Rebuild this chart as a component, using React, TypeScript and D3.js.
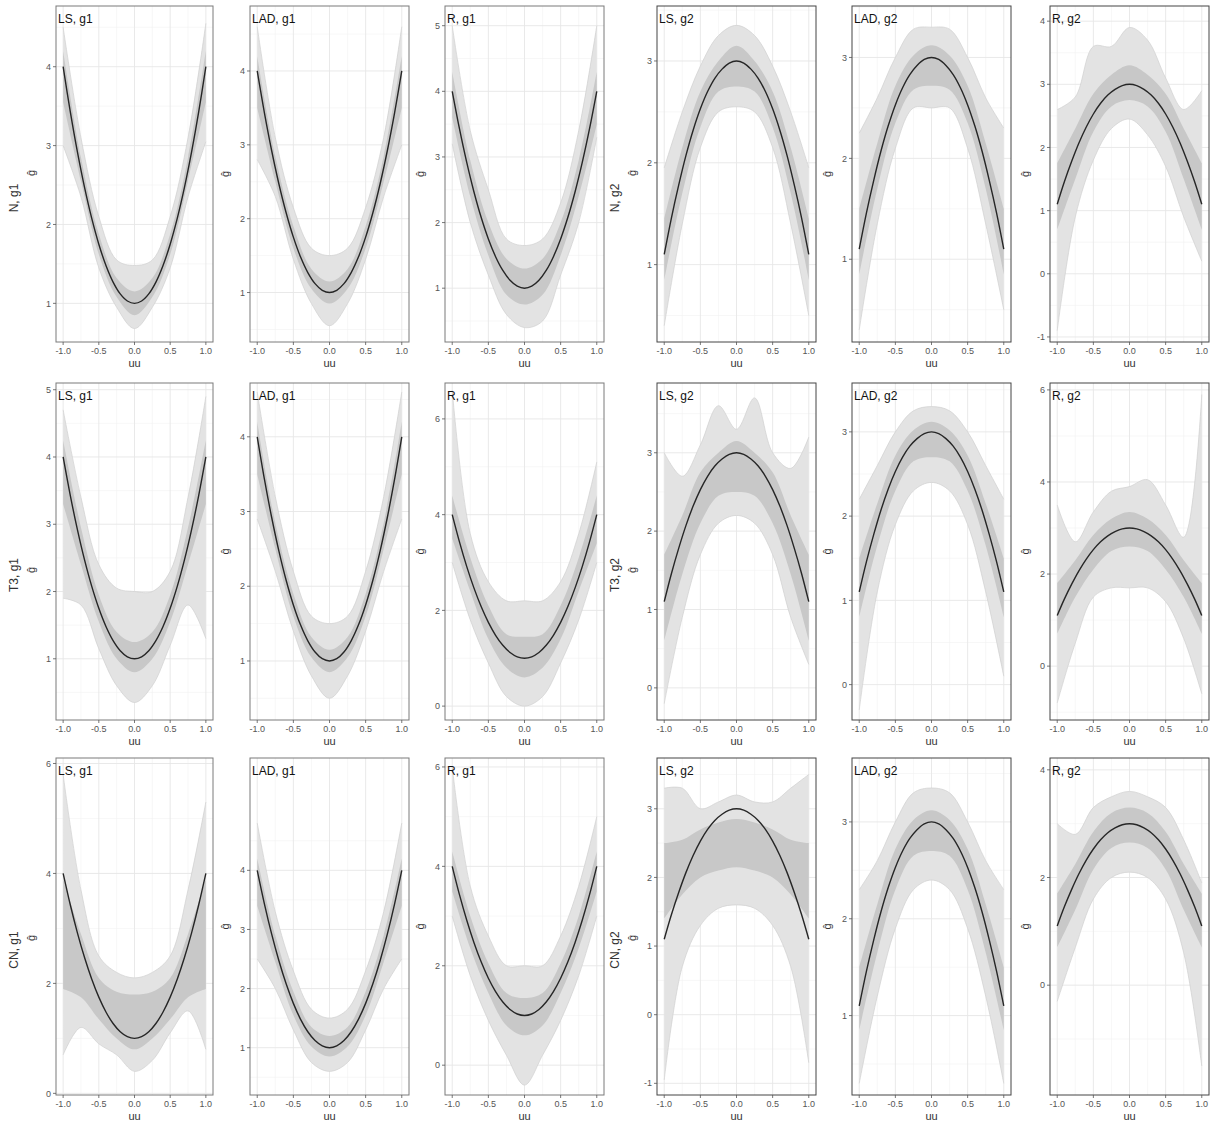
import React from "react";
import * as d3 from "d3";

// ---------- data ----------
const colTitles = ["LS, g1", "LAD, g1", "R, g1", "LS, g2", "LAD, g2", "R, g2"];
const rowNames = ["N", "T3", "CN"];
const xTicks = [-1, -0.5, 0, 0.5, 1];
const xTickLabels = ["-1.0", "-0.5", "0.0", "0.5", "1.0"];

// true curves read on a grid of u = -1..1 step 0.1
const trueX = [-1, -0.9, -0.8, -0.7, -0.6, -0.5, -0.4, -0.3, -0.2, -0.1, 0, 0.1, 0.2, 0.3, 0.4, 0.5, 0.6, 0.7, 0.8, 0.9, 1];
const g1True = [4, 3.43, 2.92, 2.47, 2.08, 1.75, 1.48, 1.27, 1.12, 1.03, 1, 1.03, 1.12, 1.27, 1.48, 1.75, 2.08, 2.47, 2.92, 3.43, 4];
const g2True = [1.1, 1.46, 1.78, 2.07, 2.32, 2.53, 2.7, 2.83, 2.92, 2.98, 3, 2.98, 2.92, 2.83, 2.7, 2.53, 2.32, 2.07, 1.78, 1.46, 1.1];

// band of simulated estimates read on u = -1..1 step 0.25 (panel order: row by row, 6 per row)
const bandX = [-1, -0.75, -0.5, -0.25, 0, 0.25, 0.5, 0.75, 1];
const outerLo = [
  [3.0, 2.35, 1.45, 0.95, 0.68, 0.95, 1.45, 2.35, 3.05],
  [2.8, 2.3, 1.45, 0.85, 0.55, 0.85, 1.45, 2.3, 3.0],
  [3.2, 2.0, 1.2, 0.6, 0.4, 0.5, 1.2, 2.0, 3.3],
  [0.4, 1.4, 2.15, 2.5, 2.55, 2.5, 2.15, 1.4, 0.5],
  [0.3, 1.35, 2.1, 2.5, 2.5, 2.5, 2.1, 1.35, 0.5],
  [-0.9, 0.9, 1.8, 2.3, 2.45, 2.2, 1.7, 0.9, 0.2],
  [1.9, 1.8, 1.15, 0.6, 0.35, 0.6, 1.2, 1.8, 1.3],
  [2.9, 2.2, 1.4, 0.8, 0.5, 0.8, 1.4, 2.2, 2.9],
  [3.0, 1.8, 0.9, 0.2, 0.0, 0.2, 0.9, 1.8, 3.0],
  [-0.2, 0.9, 1.7, 2.1, 2.2, 2.1, 1.7, 0.9, 0.3],
  [-0.3, 1.1, 1.9, 2.3, 2.4, 2.3, 1.9, 1.1, 0.1],
  [-0.8, 0.5, 1.5, 1.7, 1.7, 1.7, 1.4, 0.6, -0.6],
  [0.7, 1.2, 0.9, 0.7, 0.4, 0.6, 1.1, 1.5, 0.8],
  [2.5, 2.0, 1.3, 0.75, 0.6, 0.75, 1.3, 2.0, 2.5],
  [3.0, 1.8, 0.9, 0.2, -0.4, 0.2, 0.9, 1.8, 3.0],
  [-0.95, 0.7, 1.3, 1.55, 1.6, 1.55, 1.3, 0.7, -0.7],
  [0.3, 1.2, 1.9, 2.3, 2.4, 2.3, 1.9, 1.2, 0.3],
  [-0.3, 0.7, 1.6, 2.0, 2.1, 2.0, 1.6, 0.6, -1.5],
];
const innerLo = [
  [3.55, 2.55, 1.62, 1.08, 0.85, 1.08, 1.62, 2.55, 3.55],
  [3.5, 2.5, 1.6, 1.05, 0.85, 1.05, 1.6, 2.5, 3.5],
  [3.6, 2.4, 1.5, 0.9, 0.75, 0.9, 1.5, 2.4, 3.5],
  [0.85, 1.7, 2.35, 2.7, 2.75, 2.7, 2.35, 1.7, 0.85],
  [0.85, 1.7, 2.35, 2.68, 2.72, 2.68, 2.35, 1.7, 0.85],
  [0.7, 1.5, 2.25, 2.65, 2.75, 2.65, 2.25, 1.5, 0.7],
  [3.3, 2.4, 1.55, 1.0, 0.8, 1.0, 1.55, 2.4, 3.3],
  [3.5, 2.5, 1.6, 1.05, 0.85, 1.05, 1.6, 2.5, 3.5],
  [3.5, 2.4, 1.4, 0.8, 0.6, 0.8, 1.4, 2.4, 3.4],
  [0.6, 1.45, 2.1, 2.45, 2.5, 2.45, 2.1, 1.45, 0.6],
  [0.8, 1.65, 2.3, 2.65, 2.7, 2.65, 2.3, 1.65, 0.8],
  [0.7, 1.5, 2.1, 2.5, 2.6, 2.5, 2.1, 1.5, 0.7],
  [1.9, 1.75, 1.35, 1.0, 0.8, 1.0, 1.35, 1.75, 1.9],
  [3.4, 2.45, 1.55, 1.02, 0.85, 1.02, 1.55, 2.45, 3.4],
  [3.5, 2.35, 1.45, 0.8, 0.6, 0.8, 1.45, 2.35, 3.5],
  [1.4, 1.75, 2.0, 2.1, 2.15, 2.1, 2.0, 1.75, 1.4],
  [0.85, 1.65, 2.3, 2.65, 2.7, 2.65, 2.3, 1.65, 0.85],
  [0.7, 1.4, 2.15, 2.55, 2.65, 2.55, 2.15, 1.4, 0.7],
];
const innerHi = [
  [4.2, 2.85, 1.88, 1.32, 1.15, 1.32, 1.88, 2.85, 4.2],
  [4.2, 2.85, 1.9, 1.32, 1.15, 1.32, 1.9, 2.85, 4.2],
  [4.3, 2.95, 2.0, 1.45, 1.3, 1.45, 2.0, 2.95, 4.3],
  [1.45, 2.15, 2.7, 3.0, 3.15, 3.0, 2.7, 2.15, 1.45],
  [1.5, 2.15, 2.72, 3.02, 3.12, 3.02, 2.72, 2.15, 1.5],
  [1.75, 2.3, 2.85, 3.15, 3.3, 3.15, 2.85, 2.3, 1.75],
  [4.25, 2.95, 1.95, 1.4, 1.25, 1.4, 1.95, 2.95, 4.25],
  [4.2, 2.85, 1.9, 1.32, 1.15, 1.32, 1.9, 2.85, 4.2],
  [4.4, 3.1, 2.1, 1.5, 1.45, 1.5, 2.1, 3.1, 4.4],
  [1.7, 2.2, 2.75, 3.0, 3.15, 3.0, 2.75, 2.2, 1.7],
  [1.5, 2.15, 2.72, 3.02, 3.12, 3.02, 2.72, 2.15, 1.5],
  [1.8, 2.3, 2.85, 3.2, 3.35, 3.2, 2.85, 2.3, 1.8],
  [3.9, 2.9, 2.1, 1.85, 1.8, 1.85, 2.1, 2.9, 3.9],
  [4.2, 2.9, 1.95, 1.35, 1.2, 1.35, 1.95, 2.9, 4.2],
  [4.3, 3.0, 2.05, 1.45, 1.35, 1.45, 2.05, 3.0, 4.3],
  [2.5, 2.55, 2.7, 2.8, 2.85, 2.8, 2.7, 2.55, 2.5],
  [1.5, 2.15, 2.72, 3.02, 3.12, 3.02, 2.72, 2.15, 1.5],
  [1.7, 2.25, 2.85, 3.2, 3.3, 3.2, 2.85, 2.25, 1.7],
];
const outerHi = [
  [4.5, 3.1, 2.1, 1.55, 1.48, 1.55, 2.1, 3.1, 4.55],
  [4.6, 3.1, 2.15, 1.6, 1.5, 1.6, 2.15, 3.1, 4.6],
  [5.0, 3.4, 2.5, 1.75, 1.65, 1.75, 2.3, 3.4, 5.0],
  [1.95, 2.5, 2.95, 3.25, 3.35, 3.25, 2.95, 2.5, 1.95],
  [2.25, 2.6, 3.0, 3.28, 3.3, 3.28, 3.0, 2.6, 2.3],
  [2.6, 2.8, 3.6, 3.6, 3.9, 3.7, 3.1, 2.6, 2.9],
  [4.7, 3.4, 2.4, 2.05, 2.0, 2.0, 2.3, 3.4, 4.9],
  [4.6, 3.2, 2.2, 1.6, 1.5, 1.6, 2.2, 3.2, 4.6],
  [6.6, 3.6, 2.6, 2.2, 2.2, 2.2, 2.6, 3.6, 5.1],
  [3.0, 2.7, 3.1, 3.6, 3.3, 3.7, 3.0, 2.8, 3.2],
  [2.2, 2.6, 3.0, 3.25, 3.3, 3.25, 3.0, 2.6, 2.2],
  [3.5, 2.7, 3.35, 3.8, 3.9, 4.05, 3.5, 2.8, 5.9],
  [5.8, 3.7, 2.5, 2.2, 2.1, 2.2, 2.5, 3.7, 5.3],
  [4.8, 3.3, 2.3, 1.65, 1.5, 1.65, 2.3, 3.3, 4.8],
  [6.0, 3.6, 2.6, 2.0, 2.0, 2.0, 2.6, 3.6, 5.0],
  [3.3, 3.3, 3.0, 3.1, 3.2, 3.1, 3.1, 3.3, 3.5],
  [2.3, 2.6, 3.0, 3.3, 3.35, 3.3, 3.0, 2.6, 2.3],
  [3.0, 2.8, 3.3, 3.5, 3.6, 3.5, 3.3, 2.7, 1.9],
];

// y axes per panel
const yMin = [0.51, 0.33, 0.18, 0.24, 0.18, -1.08, 0.09, 0.21, -0.29, -0.41, -0.42, -1.17, -0.03, 0.2, -0.6, -1.17, 0.18, -2.04];
const yMax = [4.77, 4.88, 5.3, 3.54, 3.51, 4.24, 5.1, 4.72, 6.75, 3.89, 3.58, 6.15, 6.1, 5.9, 6.18, 3.74, 3.66, 4.22];
const yTicks = [
  [1, 2, 3, 4], [1, 2, 3, 4], [1, 2, 3, 4, 5], [1, 2, 3], [1, 2, 3], [-1, 0, 1, 2, 3, 4],
  [1, 2, 3, 4, 5], [1, 2, 3, 4], [0, 2, 4, 6], [0, 1, 2, 3], [0, 1, 2, 3], [0, 2, 4, 6],
  [0, 2, 4, 6], [1, 2, 3, 4], [0, 2, 4, 6], [-1, 0, 1, 2, 3], [1, 2, 3], [0, 2, 4],
];

// ---------- layout ----------
const colLeft = [56, 250, 445, 657, 852, 1050];
const colRight = [213, 409, 604, 816, 1011, 1209];
const rowTop = [6, 383, 758];
const rowBottom = [342, 720, 1095];
const hatY = [167, 187, 180];
const FONT = "'Liberation Sans', Arial, Helvetica, sans-serif";

function minorBreaks(ticks: number[], lo: number, hi: number) {
  const step = ticks.length > 1 ? ticks[1] - ticks[0] : 1;
  const out: number[] = [];
  for (let i = -1; i < ticks.length; i++) {
    const v = (i < 0 ? ticks[0] - step : ticks[i]) + step / 2;
    if (v > lo && v < hi) out.push(v);
  }
  return out;
}

function Panel({ r, c }: { r: number; c: number }) {
  const i = r * 6 + c;
  const left = colLeft[c], right = colRight[c], top = rowTop[r], bottom = rowBottom[r];
  const x = d3.scaleLinear().domain([-1.1, 1.1]).range([left, right]);
  const y = d3.scaleLinear().domain([yMin[i], yMax[i]]).range([bottom, top]);
  const isG2 = c >= 3;
  const truth = isG2 ? g2True : g1True;
  const clipId = `clip${i}`;
  const curve = d3.curveCatmullRom.alpha(0.5);

  const area = (lo: number[], hi: number[]) =>
    d3.area<number>()
      .x((_, k) => x(bandX[k]))
      .y0((_, k) => y(lo[k]))
      .y1((_, k) => y(hi[k]))
      .curve(curve)(bandX) as string;
  const lineOf = (vals: number[], xs: number[]) =>
    d3.line<number>()
      .x((_, k) => x(xs[k]))
      .y((v) => y(v))
      .curve(curve)(vals) as string;

  const yMinor = minorBreaks(yTicks[i], yMin[i], yMax[i]);
  const xMinor = [-0.75, -0.25, 0.25, 0.75];
  const borderCol = isG2 ? "#444" : "#7a7a7a";
  const midY = (top + bottom) / 2;
  const midX = (left + right) / 2;

  return (
    <g>
      <defs>
        <clipPath id={clipId}>
          <rect x={left} y={top} width={right - left} height={bottom - top} />
        </clipPath>
      </defs>
      <rect x={left} y={top} width={right - left} height={bottom - top} fill="#fff" />
      <g clipPath={`url(#${clipId})`}>
        {yMinor.map((v) => (
          <line key={"ym" + v} x1={left} x2={right} y1={y(v)} y2={y(v)} stroke="#f2f2f2" strokeWidth={0.6} />
        ))}
        {xMinor.map((v) => (
          <line key={"xm" + v} y1={top} y2={bottom} x1={x(v)} x2={x(v)} stroke="#f2f2f2" strokeWidth={0.6} />
        ))}
        {yTicks[i].map((v) => (
          <line key={"yM" + v} x1={left} x2={right} y1={y(v)} y2={y(v)} stroke="#e6e6e6" strokeWidth={0.9} />
        ))}
        {xTicks.map((v) => (
          <line key={"xM" + v} y1={top} y2={bottom} x1={x(v)} x2={x(v)} stroke="#e6e6e6" strokeWidth={0.9} />
        ))}
        <path d={area(outerLo[i], outerHi[i])} fill="#e3e3e3" />
        <path d={lineOf(outerLo[i], bandX)} fill="none" stroke="#d0d0d0" strokeWidth={0.7} />
        <path d={lineOf(outerHi[i], bandX)} fill="none" stroke="#d0d0d0" strokeWidth={0.7} />
        <path d={area(innerLo[i], innerHi[i])} fill="#c8c8c8" />
        <path d={lineOf(truth, trueX)} fill="none" stroke="#262626" strokeWidth={1.4} />
      </g>
      <rect x={left} y={top} width={right - left} height={bottom - top} fill="none" stroke={borderCol} strokeWidth={1} />
      {/* y axis */}
      {yTicks[i].map((v) => (
        <g key={"yt" + v}>
          <line x1={left - 3} x2={left} y1={y(v)} y2={y(v)} stroke="#555" strokeWidth={0.8} />
          <text x={left - 5} y={y(v)} dy="0.35em" textAnchor="end" fontSize={9} fill="#555" fontFamily={FONT}>
            {String(v)}
          </text>
        </g>
      ))}
      {/* x axis */}
      {xTicks.map((v, k) => (
        <g key={"xt" + v}>
          <line x1={x(v)} x2={x(v)} y1={bottom} y2={bottom + 3} stroke="#555" strokeWidth={0.8} />
          <text x={x(v)} y={bottom + 12} textAnchor="middle" fontSize={9} fill="#555" fontFamily={FONT}>
            {xTickLabels[k]}
          </text>
        </g>
      ))}
      <text x={midX} y={bottom + 25} textAnchor="middle" fontSize={11} fill="#333" fontFamily={FONT}>uu</text>
      {/* title */}
      <text x={left + 2} y={top + 17} fontSize={12} fill="#111" fontFamily={FONT}>{colTitles[c]}</text>
      {/* y label */}
      {c === 0 || c === 3 ? (
        <>
          <text transform={`translate(${left - 38},${top + 192}) rotate(-90)`} textAnchor="middle" fontSize={12} fill="#333" fontFamily={FONT}>
            {`${rowNames[r]}, ${isG2 ? "g2" : "g1"}`}
          </text>
          <text transform={`translate(${left - 21},${top + hatY[r]}) rotate(-90)`} textAnchor="middle" fontSize={11} fill="#333" fontFamily={FONT}>
            ĝ
          </text>
        </>
      ) : (
        <text transform={`translate(${left - 21},${midY}) rotate(-90)`} textAnchor="middle" fontSize={11} fill="#333" fontFamily={FONT}>
          ĝ
        </text>
      )}
    </g>
  );
}

export default function App() {
  const panels: React.ReactNode[] = [];
  for (let r = 0; r < 3; r++) for (let c = 0; c < 6; c++) panels.push(<Panel key={`${r}-${c}`} r={r} c={c} />);
  return (
    <svg width={1211} height={1124} style={{ position: "absolute", left: 0, top: 0, background: "#fff" }}>
      <rect width={1211} height={1124} fill="#fff" />
      {panels}
    </svg>
  );
}
